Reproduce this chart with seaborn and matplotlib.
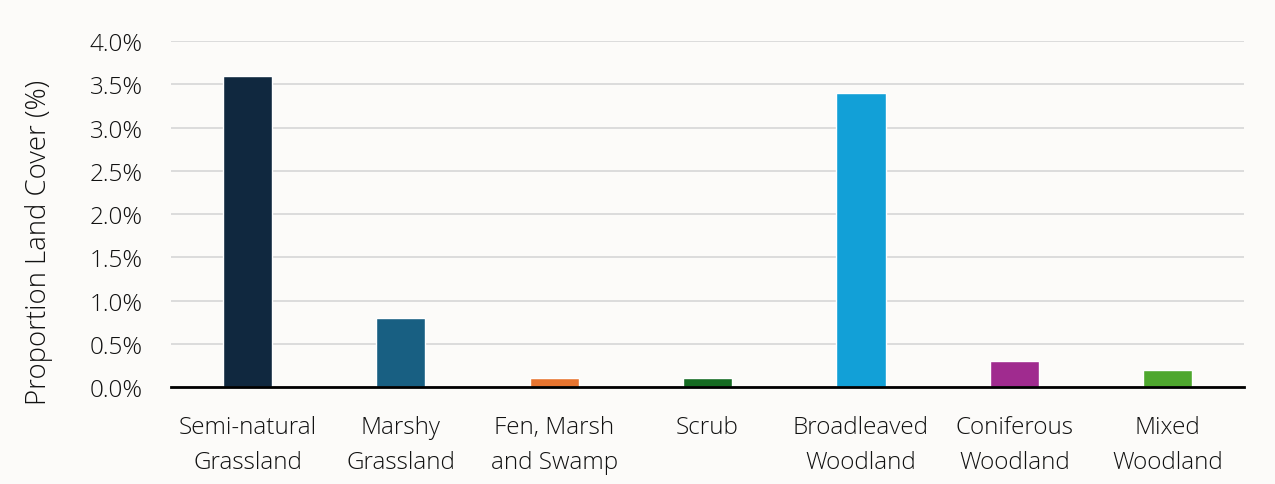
import seaborn as sns
import matplotlib.pyplot as plt
import pandas as pd
from matplotlib.ticker import PercentFormatter

categories = ['Semi-natural\nGrassland', 'Marshy\nGrassland', 'Fen, Marsh\nand Swamp', 'Scrub',
              'Broadleaved\nWoodland', 'Coniferous\nWoodland', 'Mixed\nWoodland']
values = [3.6, 0.8, 0.1, 0.1, 3.4, 0.3, 0.2]
colors = ['#10283F', '#185F82', '#E87530', '#156B22', '#12A0D7', '#A02B8F', '#4EA72E']

df = pd.DataFrame({'category': categories, 'value': values})

sns.set_style('white')
plt.rcParams['font.family'] = ['Open Sans', 'DejaVu Sans']
plt.rcParams['font.weight'] = 'light'
bg = '#FCFBF9'
txt = '#111111'

fig = plt.figure(figsize=(12.75, 4.85), dpi=100, facecolor=bg)
ax = fig.add_axes([0.134, 0.2, 0.842, 0.713])
ax.set_facecolor(bg)

sns.barplot(data=df, x='category', y='value', hue='category', palette=colors,
            saturation=1, width=0.32, legend=False, ax=ax, zorder=3)

ax.set_ylim(0, 4.0)
ax.set_yticks([i * 0.5 for i in range(9)])
ax.yaxis.set_major_formatter(PercentFormatter(decimals=1))
ax.grid(axis='y', color='#D9D9D9', linewidth=1.3, zorder=0)
ax.set_axisbelow(True)
for s in ['top', 'right', 'left']:
    ax.spines[s].set_visible(False)
ax.spines['bottom'].set_color('black')
ax.spines['bottom'].set_linewidth(2)
ax.spines['bottom'].set_zorder(4)

ax.set_xlabel('')
ax.set_ylabel('Proportion Land Cover (%)', fontsize=19.8, color=txt, fontweight='light')
ax.yaxis.set_label_coords(-0.110, 0.42)
ax.tick_params(axis='both', length=0, labelsize=17.5, colors=txt)
ax.tick_params(axis='x', pad=20)
ax.tick_params(axis='y', pad=20)
for lbl in ax.get_xticklabels():
    lbl.set_linespacing(1.6)
    lbl.set_fontweight('light')
for lbl in ax.get_yticklabels():
    lbl.set_fontweight('light')

fig.savefig('out.png', dpi=100, facecolor=bg)
